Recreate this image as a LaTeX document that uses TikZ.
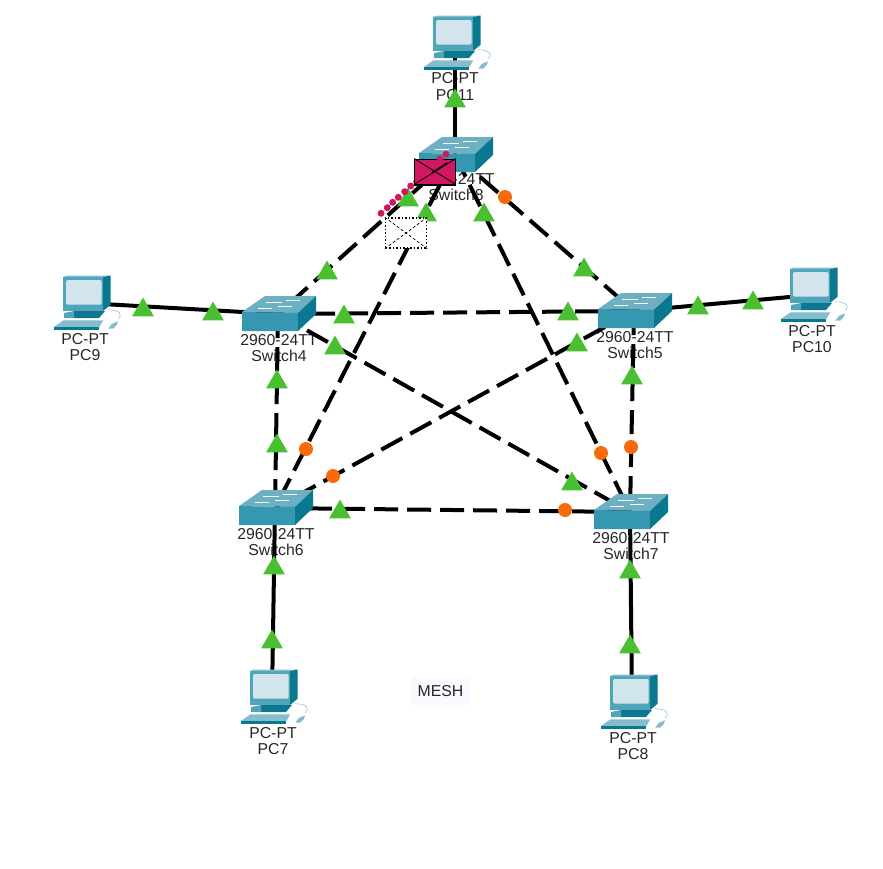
\documentclass[tikz,border=0pt]{standalone}
\usepackage{fontspec}
\setmainfont{Liberation Sans}
\usetikzlibrary{shapes.geometric}
\definecolor{swtop}{HTML}{6DB0C4}
\definecolor{swfront}{HTML}{3698B0}
\definecolor{swside}{HTML}{0A788F}
\definecolor{pclight}{HTML}{D2E5EC}
\definecolor{pcmid}{HTML}{4FA5BA}
\definecolor{pcpale}{HTML}{85BDCD}
\definecolor{okgreen}{HTML}{4BBF32}
\definecolor{sendorange}{HTML}{F96A0A}
\definecolor{mailpink}{HTML}{D0175F}
\definecolor{notebg}{HTML}{F8F8FF}
\tikzset{
    switchicon/.pic={
        \fill[swtop] (-36,-2) -- (-13,-18) -- (38,-18) -- (20,-1) -- cycle;
        \fill[swfront] (-36,-2) -- (20,-1) -- (20,17) -- (-36,17) -- cycle;
        \fill[swside] (20,-1) -- (38,-18) -- (38,0) -- (20,17) -- cycle;
        \draw[white,line width=1pt] (-12,-12) -- (4,-12);
        \draw[white,line width=1pt] (8,-14) -- (22,-14);
        \draw[white,line width=1pt] (-20,-6) -- (-6,-6);
        \draw[white,line width=1pt] (0,-8) -- (14,-8);
    },
    pcicon/.pic={
        \fill[pcmid] (-22,-26) -- (18,-26) -- (18,8) -- (-22,8) -- cycle;
        \fill[pcpale] (-22,-26) -- (-18,-27.5) -- (25.7,-27.5) -- (18,-26) -- cycle;
        \fill[swside] (18,-26) -- (25.7,-27.5) -- (25.7,1.7) -- (18,8) -- cycle;
        \fill[pclight,rounded corners=2pt] (-19,-23) rectangle (16.7,1.7);
        \fill[swside] (-11,8) -- (20,8) -- (14,15) -- (-11,15) -- cycle;
        \fill[pcmid] (-21,10) -- (-11,8) -- (-11,15) -- (-21,15) -- cycle;
        \fill[pcpale] (-21.7,17.3) -- (18.3,17.3) -- (14.3,24) -- (-31,24) -- cycle;
        \fill[swside] (-31,24) -- (14.3,24) -- (14.3,26.5) -- (-31,26.5) -- cycle;
        \fill[pcpale] (23.3,25.7) -- (26.7,21) -- (33,18.3) -- (32,21.7) -- (28.3,25.7) -- cycle;
        \draw[pcpale,line width=0.5pt] (23,6.7) .. controls (35,7) and (38,11) .. (33,16);
    }
}
\begin{document}
\begin{tikzpicture}%
        [x=1pt, y=-1pt,
        switchnode/.style={inner sep=0pt, minimum size=0pt},
        devtext/.style={align=center, font=\fontsize{15.8}{16.5}\selectfont, text=black!85, inner sep=0pt},
        solidlink/.style={color=black, line width=4pt},
        dashlink/.style={color=black, line width=4pt, dash pattern=on 24pt off 9pt},
        greentri/.style={regular polygon, regular polygon sides=3, fill=okgreen, inner sep=0pt, minimum size=25pt, yshift=-3pt},
        orangedot/.style={circle, fill=sendorange, inner sep=0pt, minimum size=14pt},
        trail/.style={circle, fill=mailpink, inner sep=0pt, minimum size=7pt}]
    \useasboundingbox (0,0) rectangle (883,868);
    %
    %% Drawing the device texts
    \node[devtext] (pc11text) at (455,86.5) {PC-PT\\PC11};
    \node[devtext] (pc9text) at (85,347) {PC-PT\\PC9};
    \node[devtext] (pc10text) at (812,339) {PC-PT\\PC10};
    \node[devtext] (pc7text) at (273,741) {PC-PT\\PC7};
    \node[devtext] (pc8text) at (633,746) {PC-PT\\PC8};
    \node[devtext] (sw8text) at (456,187) {2960-24TT\\Switch8};
    \node[devtext] (sw4text) at (279,348) {2960-24TT\\Switch4};
    \node[devtext] (sw5text) at (635,345) {2960-24TT\\Switch5};
    \node[devtext] (sw6text) at (276,542) {2960-24TT\\Switch6};
    \node[devtext] (sw7text) at (631,546) {2960-24TT\\Switch7};
    \node[fill=notebg, minimum width=59pt, minimum height=28pt, inner sep=0pt, font=\fontsize{15.8}{16.5}\selectfont, text=black!85] (meshnote) at (440.5,691) {MESH};
    %
    %% Drawing the vertices
    \node[switchnode] (sw8) at (455,155) {};
    \node[switchnode] (sw4) at (278,314) {};
    \node[switchnode] (sw5) at (634,311) {};
    \node[switchnode] (sw6) at (275,508) {};
    \node[switchnode] (sw7) at (630,512) {};
    \node[switchnode] (pc11) at (455,43) {};
    \node[switchnode] (pc9) at (85,303) {};
    \node[switchnode] (pc10) at (812,295) {};
    \node[switchnode] (pc7) at (272,697) {};
    \node[switchnode] (pc8) at (632,702) {};
    %
    %% Drawing the links
    \draw[solidlink] (pc11) -- (sw8);
    \draw[solidlink] (pc9) -- (sw4);
    \draw[solidlink] (pc10) -- (sw5);
    \draw[solidlink] (pc7) -- (sw6);
    \draw[solidlink] (pc8) -- (sw7);
    \draw[dashlink] (sw8) -- (sw4);
    \draw[dashlink] (sw8) -- (sw5);
    \draw[dashlink] (sw8) -- (sw6);
    \draw[dashlink] (sw8) -- (sw7);
    \draw[dashlink] (sw4) -- (sw5);
    \draw[dashlink] (sw4) -- (sw6);
    \draw[dashlink] (sw4) -- (sw7);
    \draw[dashlink] (sw5) -- (sw6);
    \draw[dashlink] (sw5) -- (sw7);
    \draw[dashlink] (sw6) -- (sw7);
    %
    %% Drawing the icons
    \pic at (sw8) {switchicon};
    \pic at (sw4) {switchicon};
    \pic at (sw5) {switchicon};
    \pic at (sw6) {switchicon};
    \pic at (sw7) {switchicon};
    \pic at (pc11) {pcicon};
    \pic at (pc9) {pcicon};
    \pic at (pc10) {pcicon};
    \pic at (pc7) {pcicon};
    \pic at (pc8) {pcicon};
    %
    %% Link lights
    \foreach \pos [count=\i] in {(455,98),(408,197),(426,212),(484,212),(327,270),(584,267),
        (143,307),(213,311),(698,305),(753,300),(344,314),(568,311),(335,345),(577,342),
        (277,379),(632,375),(277,443),(572,481),(340,509),(274,565),(630,569),(272,639),(630,644)}
        \node[greentri] (tri\i) at \pos {};
    \foreach \pos [count=\i] in {(505,197),(306,449),(333,476),(601,453),(631,447),(565,510)}
        \node[orangedot] (dot\i) at \pos {};
    %
    %% The moving packets
    \node[draw=black, dotted, line width=1.5pt, fill=white, minimum width=41pt, minimum height=30pt, inner sep=0pt] (ghostmail) at (406,233) {};
    \draw[black, densely dashed, line width=0.7pt] (ghostmail.north west) -- (ghostmail.center) -- (ghostmail.north east);
    \draw[black, densely dashed, line width=0.7pt] (ghostmail.south west) -- (ghostmail.center) -- (ghostmail.south east);
    \foreach \pos [count=\i] in {(381,213.3),(387.3,207.7),(392.7,202.3),(398.3,197.3),(404.7,191.7),(410.7,186),(416.7,181.7)}
        \node[trail] (trail\i) at \pos {};
    \node[fill=mailpink, draw=black, line width=1pt, minimum width=41pt, minimum height=25pt, inner sep=0pt] (mail) at (435,171.5) {};
    \draw[black, line width=0.8pt] (mail.north west) -- (mail.center) -- (mail.north east);
    \draw[black, line width=0.8pt] (mail.south west) -- (mail.center) -- (mail.south east);
    \draw[black, line width=2pt] (mail.south west) -- (mail.south east);
    \draw[black, line width=1.5pt] (432,173) -- (447,163);
    \node[trail] (trail8) at (440,159) {};
    \node[trail] (trail9) at (446,154.3) {};
\end{tikzpicture}
\end{document}
